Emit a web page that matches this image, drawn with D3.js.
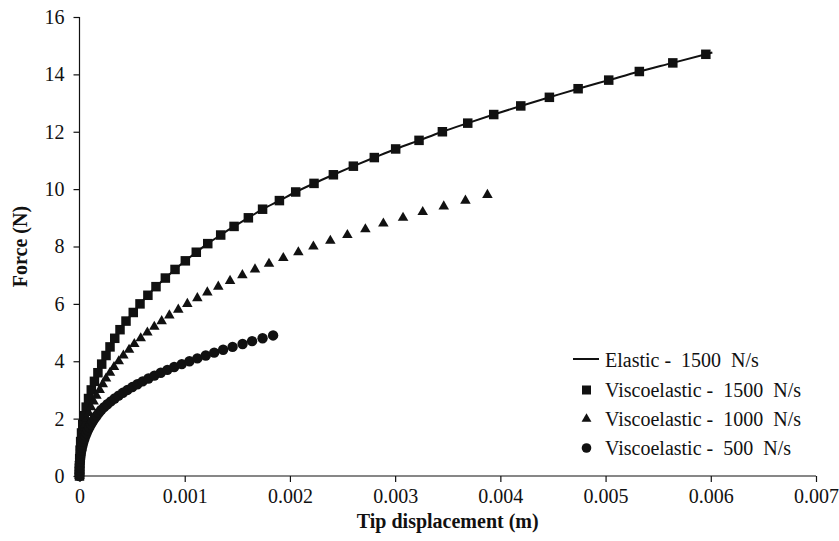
<!DOCTYPE html>
<html>
<head>
<meta charset="utf-8">
<script src="https://cdn.jsdelivr.net/npm/d3@7/dist/d3.min.js"></script>
<style>
  html, body { margin: 0; padding: 0; background: #fff; }
  svg text { font-family: "Liberation Serif", "Times New Roman", serif; white-space: pre; }
</style>
</head>
<body>
<svg id="chart" width="839" height="541"></svg>
<script>
// ---------- DATA ----------
const xTicks = [0, 0.001, 0.002, 0.003, 0.004, 0.005, 0.006, 0.007];
const xTickLabels = ["0", "0.001", "0.002", "0.003", "0.004", "0.005", "0.006", "0.007"];
const yTicks = [0, 2, 4, 6, 8, 10, 12, 14, 16];
const yTickLabels = ["0", "2", "4", "6", "8", "10", "12", "14", "16"];

const seriesNames = ["Elastic -  1500  N/s", "Viscoelastic -  1500  N/s", "Viscoelastic -  1000  N/s", "Viscoelastic -  500  N/s"];

// Viscoelastic 1500 N/s (squares)
const visco1500Disp = [0, 0.0000004, 0.0000020, 0.0000054, 0.0000110, 0.0000193, 0.0000307, 0.0000455, 0.0000636, 0.0000858,
  0.000112, 0.000142, 0.000175, 0.000211, 0.000252, 0.000290, 0.000335, 0.000385, 0.000442, 0.000511,
  0.000575, 0.000650, 0.000727, 0.000816, 0.000908, 0.001006, 0.001110, 0.001219, 0.001342, 0.001469,
  0.001605, 0.001740, 0.001900, 0.002055, 0.002229, 0.002413, 0.002603, 0.002802, 0.003005, 0.003227,
  0.003449, 0.003690, 0.003937, 0.004194, 0.004466, 0.004739, 0.005030, 0.005321, 0.005639, 0.005953];
const visco1500Force = [0, 0.3, 0.6, 0.9, 1.2, 1.5, 1.8, 2.1, 2.4, 2.7,
  3.0, 3.3, 3.6, 3.9, 4.2, 4.5, 4.8, 5.1, 5.4, 5.7,
  6.0, 6.3, 6.6, 6.9, 7.2, 7.5, 7.8, 8.1, 8.4, 8.7,
  9.0, 9.3, 9.6, 9.9, 10.2, 10.5, 10.8, 11.1, 11.4, 11.7,
  12.0, 12.3, 12.6, 12.9, 13.2, 13.5, 13.8, 14.1, 14.4, 14.7];

// Elastic 1500 N/s (line)
const elasticDisp = [0, 0.0000004, 0.0000020, 0.0000054, 0.0000110, 0.0000193, 0.0000307, 0.0000455, 0.0000636, 0.0000858,
  0.000112, 0.000142, 0.000175, 0.000211, 0.000252, 0.000290, 0.000335, 0.000385, 0.000442, 0.000511,
  0.000575, 0.000650, 0.000727, 0.000816, 0.000908, 0.001006, 0.001110, 0.001219, 0.001342, 0.001469,
  0.001605, 0.001740, 0.001900, 0.002055, 0.002229, 0.002413, 0.002603, 0.002802, 0.003005, 0.003227,
  0.003449, 0.003690, 0.003937, 0.004194, 0.004466, 0.004739, 0.005030, 0.005321, 0.005639, 0.005953, 0.006015];
const elasticForce = [0, 0.3, 0.6, 0.9, 1.2, 1.5, 1.8, 2.1, 2.4, 2.7,
  3.0, 3.3, 3.6, 3.9, 4.2, 4.5, 4.8, 5.1, 5.4, 5.7,
  6.0, 6.3, 6.6, 6.9, 7.2, 7.5, 7.8, 8.1, 8.4, 8.7,
  9.0, 9.3, 9.6, 9.9, 10.2, 10.5, 10.8, 11.1, 11.4, 11.7,
  12.0, 12.3, 12.6, 12.9, 13.2, 13.5, 13.8, 14.1, 14.4, 14.7, 14.76];

// Viscoelastic 1000 N/s (triangles)
const visco1000Disp = [0, 0.0000002, 0.0000011, 0.0000032, 0.0000067, 0.0000118, 0.0000187, 0.0000278, 0.0000390, 0.0000524,
  0.0000686, 0.0000873, 0.000109, 0.000134, 0.000161, 0.000192, 0.000221, 0.000252, 0.000290, 0.000328,
  0.000373, 0.000417, 0.000471, 0.000521, 0.000582, 0.000645, 0.000711, 0.000781, 0.000854, 0.000939,
  0.001025, 0.001120, 0.001215, 0.001319, 0.001431, 0.001548, 0.001668, 0.001801, 0.001937, 0.002080,
  0.002223, 0.002384, 0.002546, 0.002717, 0.002888, 0.003075, 0.003262, 0.003462, 0.003668, 0.003877];
const visco1000Force = [0, 0.2, 0.4, 0.6, 0.8, 1.0, 1.2, 1.4, 1.6, 1.8,
  2.0, 2.2, 2.4, 2.6, 2.8, 3.0, 3.2, 3.4, 3.6, 3.8,
  4.0, 4.2, 4.4, 4.6, 4.8, 5.0, 5.2, 5.4, 5.6, 5.8,
  6.0, 6.2, 6.4, 6.6, 6.8, 7.0, 7.2, 7.4, 7.6, 7.8,
  8.0, 8.2, 8.4, 8.6, 8.8, 9.0, 9.2, 9.4, 9.6, 9.8];

// Viscoelastic 500 N/s (circles)
const visco500Disp = [0, 0.0000001, 0.0000004, 0.0000010, 0.0000022, 0.0000039, 0.0000063, 0.0000093, 0.0000132, 0.0000180,
  0.0000236, 0.0000303, 0.0000379, 0.0000466, 0.0000566, 0.0000677, 0.0000801, 0.0000939, 0.000109, 0.000125,
  0.000143, 0.000163, 0.000183, 0.000206, 0.000234, 0.000265, 0.000298, 0.000334, 0.000372, 0.000412,
  0.000456, 0.000502, 0.000550, 0.000600, 0.000655, 0.000712, 0.000772, 0.000835, 0.000900, 0.000972,
  0.001045, 0.001120, 0.001200, 0.001280, 0.001365, 0.001455, 0.001550, 0.001640, 0.001740, 0.001840];
const visco500Force = [0, 0.1, 0.2, 0.3, 0.4, 0.5, 0.6, 0.7, 0.8, 0.9,
  1.0, 1.1, 1.2, 1.3, 1.4, 1.5, 1.6, 1.7, 1.8, 1.9,
  2.0, 2.1, 2.2, 2.3, 2.4, 2.5, 2.6, 2.7, 2.8, 2.9,
  3.0, 3.1, 3.2, 3.3, 3.4, 3.5, 3.6, 3.7, 3.8, 3.9,
  4.0, 4.1, 4.2, 4.3, 4.4, 4.5, 4.6, 4.7, 4.8, 4.9];

// ---------- CHART ----------
const svg = d3.select("#chart");
const W = 839, H = 541;
const margin = { left: 79.5, right: 23, top: 17, bottom: 65 };
const innerRight = W - margin.right;
const innerBottom = H - margin.bottom;
const ink = "#111";
const serif = '"Liberation Serif", "Times New Roman", serif';
const fs = 20;

const x = d3.scaleLinear().domain([0, 0.007]).range([margin.left, innerRight]);
const y = d3.scaleLinear().domain([0, 16]).range([innerBottom, margin.top]);

const zip = (xs, ys) => xs.map((d, i) => ({ x: d, y: ys[i] }));

// Axes
const xAxis = d3.axisBottom(x).tickValues(xTicks).tickSize(6).tickPadding(7)
  .tickFormat((d, i) => xTickLabels[i]);
const yAxis = d3.axisLeft(y).tickValues(yTicks).tickSize(6).tickPadding(9)
  .tickFormat((d, i) => yTickLabels[i]);

const gx = svg.append("g").attr("transform", `translate(0,${innerBottom})`).call(xAxis);
const gy = svg.append("g").attr("transform", `translate(${margin.left},0)`).call(yAxis);
[gx, gy].forEach(g => {
  g.attr("font-family", serif).attr("font-size", fs);
  g.select(".domain").attr("stroke", ink).attr("stroke-width", 1.2);
  g.selectAll(".tick line").attr("stroke", ink).attr("stroke-width", 1.2);
  g.selectAll(".tick text").attr("fill", ink).style("font-size", fs + "px").style("font-family", serif);
});
gx.select(".domain").attr("d", `M${margin.left},0H${innerRight}`);
gy.select(".domain").attr("d", `M0,${innerBottom}V${margin.top}`);

// Axis titles
svg.append("text")
  .attr("x", (margin.left + innerRight) / 2).attr("y", 528)
  .attr("text-anchor", "middle").attr("font-weight", "bold").attr("font-size", fs).attr("fill", ink)
  .text("Tip displacement (m)");
svg.append("text")
  .attr("transform", `translate(27,${(margin.top + innerBottom) / 2}) rotate(-90)`)
  .attr("text-anchor", "middle").attr("font-weight", "bold").attr("font-size", fs).attr("fill", ink)
  .text("Force (N)");

// Marks
const plot = svg.append("g");

const line = d3.line().x(d => x(d.x)).y(d => y(d.y)).curve(d3.curveMonotoneX);
plot.append("path").datum(zip(elasticDisp, elasticForce))
  .attr("d", line).attr("fill", "none").attr("stroke", ink).attr("stroke-width", 2);

const sq = 9.5;
plot.append("g").selectAll("rect").data(zip(visco1500Disp, visco1500Force)).join("rect")
  .attr("x", d => x(d.x) - sq / 2).attr("y", d => y(d.y) - sq / 2)
  .attr("width", sq).attr("height", sq).attr("fill", ink);

const tri = d3.symbol().type(d3.symbolTriangle).size(48);
plot.append("g").selectAll("path").data(zip(visco1000Disp, visco1000Force)).join("path")
  .attr("transform", d => `translate(${x(d.x)},${y(d.y)})`)
  .attr("d", tri).attr("fill", ink);

plot.append("g").selectAll("circle").data(zip(visco500Disp, visco500Force)).join("circle")
  .attr("cx", d => x(d.x)).attr("cy", d => y(d.y)).attr("r", 5.2).attr("fill", ink);

// Legend
const legend = svg.append("g");
const legRows = [360, 390, 419, 448];
const legMarkX = 586.5, legTextX = 605;
const triLeg = d3.symbol().type(d3.symbolTriangle).size(42);
legRows.forEach((ry, i) => {
  const g = legend.append("g");
  if (i === 0) {
    g.append("line").attr("x1", 573).attr("x2", 599).attr("y1", ry - 1).attr("y2", ry - 1)
      .attr("stroke", ink).attr("stroke-width", 2);
  } else if (i === 1) {
    g.append("rect").attr("x", legMarkX - 4.5).attr("y", ry - 4.5).attr("width", 9).attr("height", 9).attr("fill", ink);
  } else if (i === 2) {
    g.append("path").attr("transform", `translate(${legMarkX},${ry})`).attr("d", triLeg).attr("fill", ink);
  } else {
    g.append("circle").attr("cx", legMarkX).attr("cy", ry).attr("r", 4.8).attr("fill", ink);
  }
  g.append("text").attr("x", legTextX).attr("y", ry + 7).attr("font-size", fs).attr("fill", ink)
    .text(seriesNames[i]);
});
</script>
</body>
</html>
